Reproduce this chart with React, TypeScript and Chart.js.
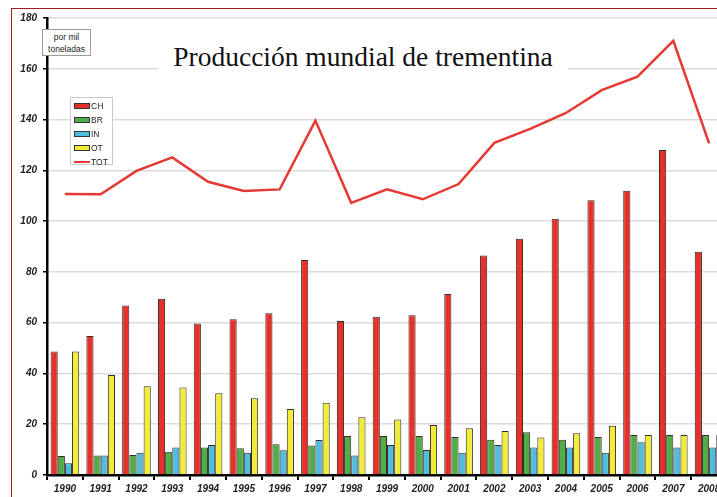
import React, { useEffect, useRef } from "react";
import { Chart, registerables } from "chart.js";

Chart.register(...registerables);

const years = ["1990","1991","1992","1993","1994","1995","1996","1997","1998","1999","2000","2001","2002","2003","2004","2005","2006","2007","2008"];
const CH = [48.6, 54.7, 66.8, 69.4, 59.7, 61.3, 63.7, 84.7, 60.7, 62.3, 62.9, 71.3, 86.5, 93.1, 100.9, 108.2, 112.0, 128.0, 87.9];
const BR = [7.5, 7.7, 7.9, 9.2, 10.8, 10.5, 12.1, 11.6, 15.4, 15.4, 15.4, 15.0, 13.9, 16.8, 13.9, 15.0, 15.8, 15.8, 15.8];
const IN = [4.6, 7.7, 8.8, 10.8, 11.8, 8.8, 9.7, 13.8, 7.7, 11.8, 9.8, 8.8, 11.8, 10.8, 10.8, 8.8, 12.9, 10.8, 10.8];
const OT = [48.6, 39.4, 35.0, 34.5, 32.2, 30.2, 26.0, 28.5, 22.7, 21.9, 19.7, 18.4, 17.3, 14.8, 16.4, 19.4, 15.8, 15.8, 15.8];
const TOT = [110.7, 110.6, 119.8, 125.1, 115.5, 111.9, 112.5, 139.6, 107.2, 112.5, 108.6, 114.6, 130.8, 136.3, 142.6, 151.6, 156.9, 171.0, 130.6];
const yTicks = [0, 20, 40, 60, 80, 100, 120, 140, 160, 180];

const RED = "#e8302a";
const GREEN = "#4fae45";
const CYAN = "#4fbede";
const YELLOW = "#f0ec3a";
const LINE = "#e53a32";

const legendItems = [
  { label: "CH", color: RED, line: false },
  { label: "BR", color: GREEN, line: false },
  { label: "IN", color: CYAN, line: false },
  { label: "OT", color: YELLOW, line: false },
  { label: "TOT", color: LINE, line: true },
];

export default function App() {
  const ref = useRef<HTMLCanvasElement | null>(null);

  useEffect(() => {
    if (!ref.current) return;
    const barDs = (label: string, data: number[], color: string) => ({
      type: "bar" as const,
      label,
      data,
      backgroundColor: color,
      borderColor: "#3a2a2a",
      borderWidth: 1,
      categoryPercentage: 0.8,
      barPercentage: 1.0,
      order: 2,
    });
    const chart = new Chart(ref.current, {
      type: "bar",
      data: {
        labels: years,
        datasets: [
          {
            type: "line" as const,
            label: "TOT",
            data: TOT,
            borderColor: LINE,
            borderWidth: 2.5,
            pointRadius: 0,
            tension: 0,
            fill: false,
            order: 1,
          } as any,
          barDs("CH", CH, RED),
          barDs("BR", BR, GREEN),
          barDs("IN", IN, CYAN),
          barDs("OT", OT, YELLOW),
        ],
      },
      options: {
        animation: false,
        responsive: false,
        layout: { padding: { top: 18, left: 0, right: 0, bottom: 0 } },
        plugins: {
          legend: { display: false },
          title: { display: false },
          tooltip: { enabled: false },
        },
        scales: {
          x: {
            offset: true,
            grid: {
              offset: true,
              drawOnChartArea: false,
              drawTicks: true,
              tickLength: 5,
              color: "#000",
              lineWidth: 2,
            },
            border: { display: true, color: "#000", width: 2.5 },
            ticks: {
              color: "#222",
              font: { family: "Liberation Sans, Arial, sans-serif", size: 10, weight: "bold", style: "italic" },
              padding: 3,
              maxRotation: 0,
              autoSkip: false,
            },
            afterFit: (scale: any) => {
              scale.height = 22;
            },
          },
          y: {
            min: 0,
            max: 180,
            afterBuildTicks: (scale: any) => {
              scale.ticks = yTicks.map((v) => ({ value: v }));
            },
            grid: {
              color: "#dcdcdc",
              lineWidth: 1.5,
              tickLength: 4,
              tickColor: "#000",
              tickWidth: 1.5,
            } as any,
            border: { display: true, color: "#000", width: 2.5 },
            ticks: {
              color: "#222",
              font: { family: "Liberation Sans, Arial, sans-serif", size: 10, weight: "bold", style: "italic" },
              padding: 6,
            },
            afterFit: (scale: any) => {
              scale.width = 47;
            },
          },
        },
      },
    });
    return () => chart.destroy();
  }, []);

  return (
    <div
      style={{
        position: "fixed",
        left: 0,
        top: 0,
        width: 717,
        height: 497,
        overflow: "hidden",
        background: "#fff",
      }}
    >
      <canvas ref={ref} width={727} height={497} style={{ position: "absolute", left: 0, top: 0 }} />
      {/* frame */}
      <div style={{ position: "absolute", left: 11, top: 8, width: 720, height: 0, borderTop: "1.5px solid #a31c1c" }} />
      <div style={{ position: "absolute", left: 11, top: 8, width: 0, height: 500, borderLeft: "1.5px solid #a31c1c" }} />
      {/* title */}
      <div
        style={{
          position: "absolute",
          left: 158,
          top: 40,
          width: 410,
          height: 34,
          background: "#fff",
          textAlign: "center",
          fontFamily: "'Liberation Serif', serif",
          fontSize: 27.5,
          lineHeight: "34px",
          color: "#111",
        }}
      >
        Producción mundial de trementina
      </div>
      {/* unit box */}
      <div
        style={{
          position: "absolute",
          left: 42,
          top: 29,
          width: 49,
          height: 27,
          border: "1px solid #9a9a9a",
          background: "#fff",
          textAlign: "center",
          fontFamily: "'Liberation Sans', Arial, sans-serif",
          fontSize: 8.5,
          lineHeight: "12px",
          color: "#222",
          paddingTop: 1,
          boxSizing: "border-box",
        }}
      >
        por mil
        <br />
        toneladas
      </div>
      {/* legend */}
      <div
        style={{
          position: "absolute",
          left: 70,
          top: 97,
          width: 43,
          height: 68,
          border: "1px solid #c8c8c8",
          background: "#fff",
          boxSizing: "border-box",
          fontFamily: "'Liberation Sans', Arial, sans-serif",
          fontSize: 8.5,
          color: "#222",
        }}
      >
        {legendItems.map((it, i) => (
          <div key={it.label} style={{ position: "absolute", left: 3, top: 3 + i * 14, height: 10, display: "flex", alignItems: "center" }}>
            {it.line ? (
              <div style={{ width: 16, height: 2.5, background: it.color }} />
            ) : (
              <div style={{ width: 14, height: 4, background: it.color, border: "1px solid #333" }} />
            )}
            <span style={{ marginLeft: 1 }}>{it.label}</span>
          </div>
        ))}
      </div>
    </div>
  );
}
